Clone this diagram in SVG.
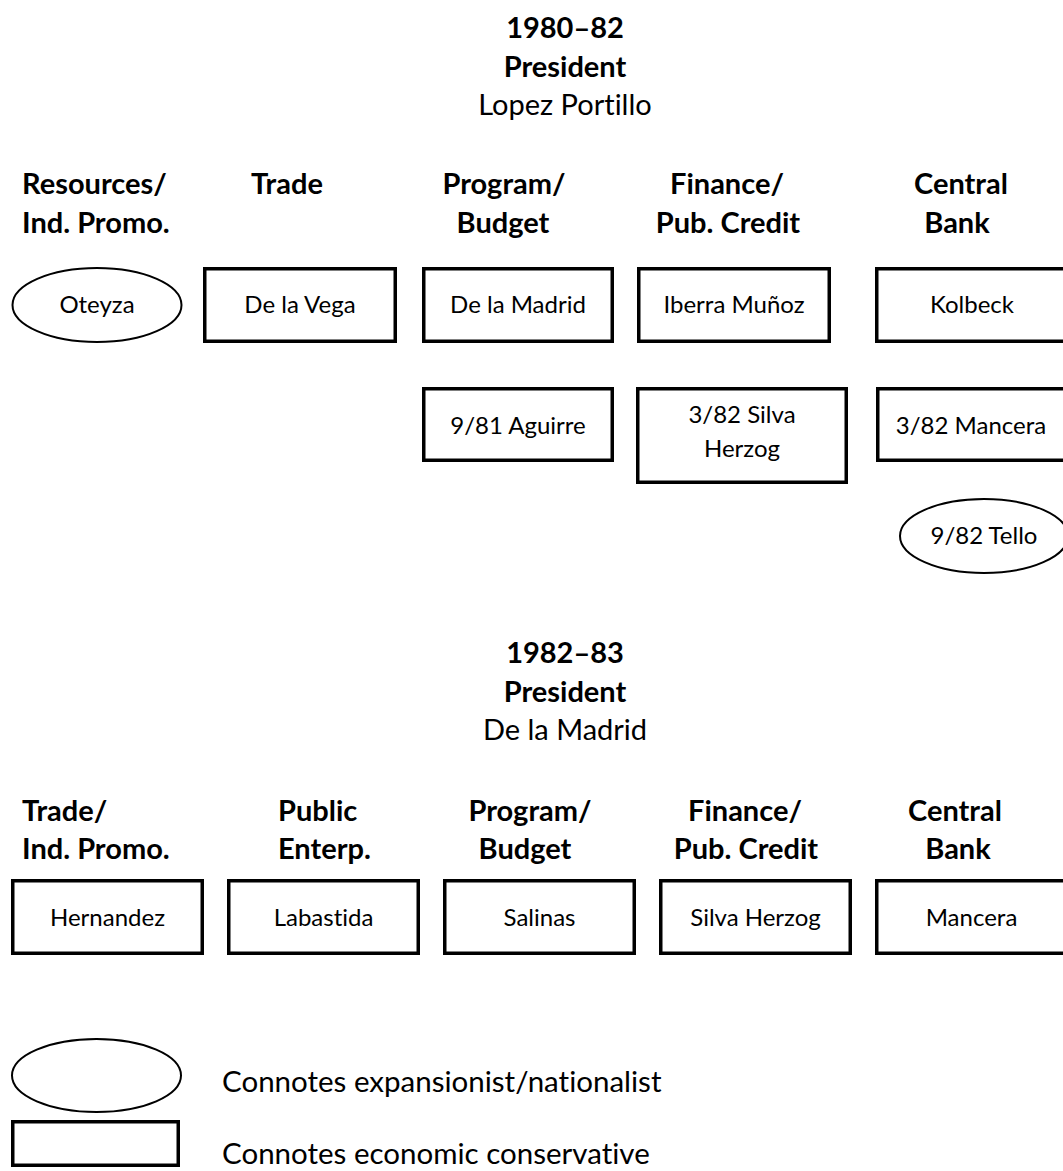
<svg xmlns="http://www.w3.org/2000/svg" width="1063" height="1171" viewBox="0 0 1063 1171">
  <style>
    text { font-family: Lato, "Liberation Sans", sans-serif; fill: #000; font-variant-ligatures: none; }
    .title { font-size: 29px; font-weight: bold; text-anchor: middle; }
    .pres { font-size: 29px; text-anchor: middle; }
    .hdr { font-size: 29px; font-weight: bold; }
    .mid { text-anchor: middle; }
    .lbl { font-size: 24px; text-anchor: middle; }
    .leg { font-size: 29.5px; }
    .box { fill: #fff; stroke: #000; stroke-width: 3.5; }
    .oval { fill: #fff; stroke: #000; stroke-width: 2; }
  </style>
  <rect width="1063" height="1171" fill="#fff"/>

  <!-- Section 1: 1980–82 -->
  <g id="title1">
    <text class="title" x="565" y="38">1980–82</text>
    <text class="title" x="565" y="77">President</text>
    <text class="pres" x="565" y="115">Lopez Portillo</text>
  </g>
  <g id="headers1">
    <text class="hdr" x="22" y="194">Resources/</text>
    <text class="hdr" x="22" y="233">Ind. Promo.</text>
    <text class="hdr mid" x="287" y="194">Trade</text>
    <text class="hdr mid" x="504" y="194">Program/</text>
    <text class="hdr mid" x="503" y="233">Budget</text>
    <text class="hdr mid" x="727" y="194">Finance/</text>
    <text class="hdr mid" x="728" y="233">Pub. Credit</text>
    <text class="hdr mid" x="961" y="194">Central</text>
    <text class="hdr mid" x="957" y="233">Bank</text>
  </g>

  <g id="oteyza">
    <ellipse class="oval" cx="97" cy="305" rx="84.5" ry="37"/>
    <text class="lbl" x="97" y="313">Oteyza</text>
  </g>
  <g id="delavega">
    <rect class="box" x="204.75" y="268.75" width="190.5" height="72.5"/>
    <text class="lbl" x="300" y="313">De la Vega</text>
  </g>
  <g id="delamadrid1">
    <rect class="box" x="423.75" y="268.75" width="188.5" height="72.5"/>
    <text class="lbl" x="518" y="313">De la Madrid</text>
  </g>
  <g id="iberra">
    <rect class="box" x="638.75" y="268.75" width="190.5" height="72.5"/>
    <text class="lbl" x="734" y="313">Iberra Muñoz</text>
  </g>
  <g id="kolbeck">
    <rect class="box" x="876.75" y="268.75" width="190.5" height="72.5"/>
    <text class="lbl" x="972" y="313">Kolbeck</text>
  </g>

  <g id="aguirre">
    <rect class="box" x="423.75" y="388.75" width="188.5" height="71.5"/>
    <text class="lbl" x="518" y="434">9/81 Aguirre</text>
  </g>
  <g id="silvaherzog1">
    <rect class="box" x="637.75" y="388.75" width="208.5" height="93.5"/>
    <text class="lbl" x="742" y="423">3/82 Silva</text>
    <text class="lbl" x="742" y="457">Herzog</text>
  </g>
  <g id="mancera1">
    <rect class="box" x="877.75" y="388.75" width="190.5" height="71.5"/>
    <text class="lbl" x="971" y="434">3/82 Mancera</text>
  </g>
  <g id="tello">
    <ellipse class="oval" cx="984" cy="536" rx="84" ry="37"/>
    <text class="lbl" x="984" y="544">9/82 Tello</text>
  </g>

  <!-- Section 2: 1982–83 -->
  <g id="title2">
    <text class="title" x="565" y="663">1982–83</text>
    <text class="title" x="565" y="702">President</text>
    <text class="pres" x="565" y="740">De la Madrid</text>
  </g>
  <g id="headers2">
    <text class="hdr" x="22" y="821">Trade/</text>
    <text class="hdr" x="22" y="859">Ind. Promo.</text>
    <text class="hdr" x="278" y="821">Public</text>
    <text class="hdr" x="278" y="859">Enterp.</text>
    <text class="hdr mid" x="530" y="821">Program/</text>
    <text class="hdr mid" x="525" y="859">Budget</text>
    <text class="hdr mid" x="745" y="821">Finance/</text>
    <text class="hdr mid" x="746" y="859">Pub. Credit</text>
    <text class="hdr mid" x="955" y="821">Central</text>
    <text class="hdr mid" x="958" y="859">Bank</text>
  </g>

  <g id="hernandez">
    <rect class="box" x="12.75" y="880.75" width="189.5" height="72.5"/>
    <text class="lbl" x="107.5" y="926">Hernandez</text>
  </g>
  <g id="labastida">
    <rect class="box" x="228.75" y="880.75" width="189.5" height="72.5"/>
    <text class="lbl" x="323.5" y="926">Labastida</text>
  </g>
  <g id="salinas">
    <rect class="box" x="444.75" y="880.75" width="189.5" height="72.5"/>
    <text class="lbl" x="539.5" y="926">Salinas</text>
  </g>
  <g id="silvaherzog2">
    <rect class="box" x="660.75" y="880.75" width="189.5" height="72.5"/>
    <text class="lbl" x="755.5" y="926">Silva Herzog</text>
  </g>
  <g id="mancera2">
    <rect class="box" x="876.75" y="880.75" width="189.5" height="72.5"/>
    <text class="lbl" x="971.5" y="926">Mancera</text>
  </g>

  <g id="connectors"></g>

  <!-- Legend -->
  <g id="legend-oval">
    <ellipse class="oval" cx="96.5" cy="1075.5" rx="84.5" ry="36.5"/>
    <text class="leg" x="222" y="1092">Connotes expansionist/nationalist</text>
  </g>
  <g id="legend-rect">
    <rect class="box" x="12.75" y="1121.75" width="165.5" height="43.5"/>
    <text class="leg" x="222" y="1164">Connotes economic conservative</text>
  </g>
</svg>
